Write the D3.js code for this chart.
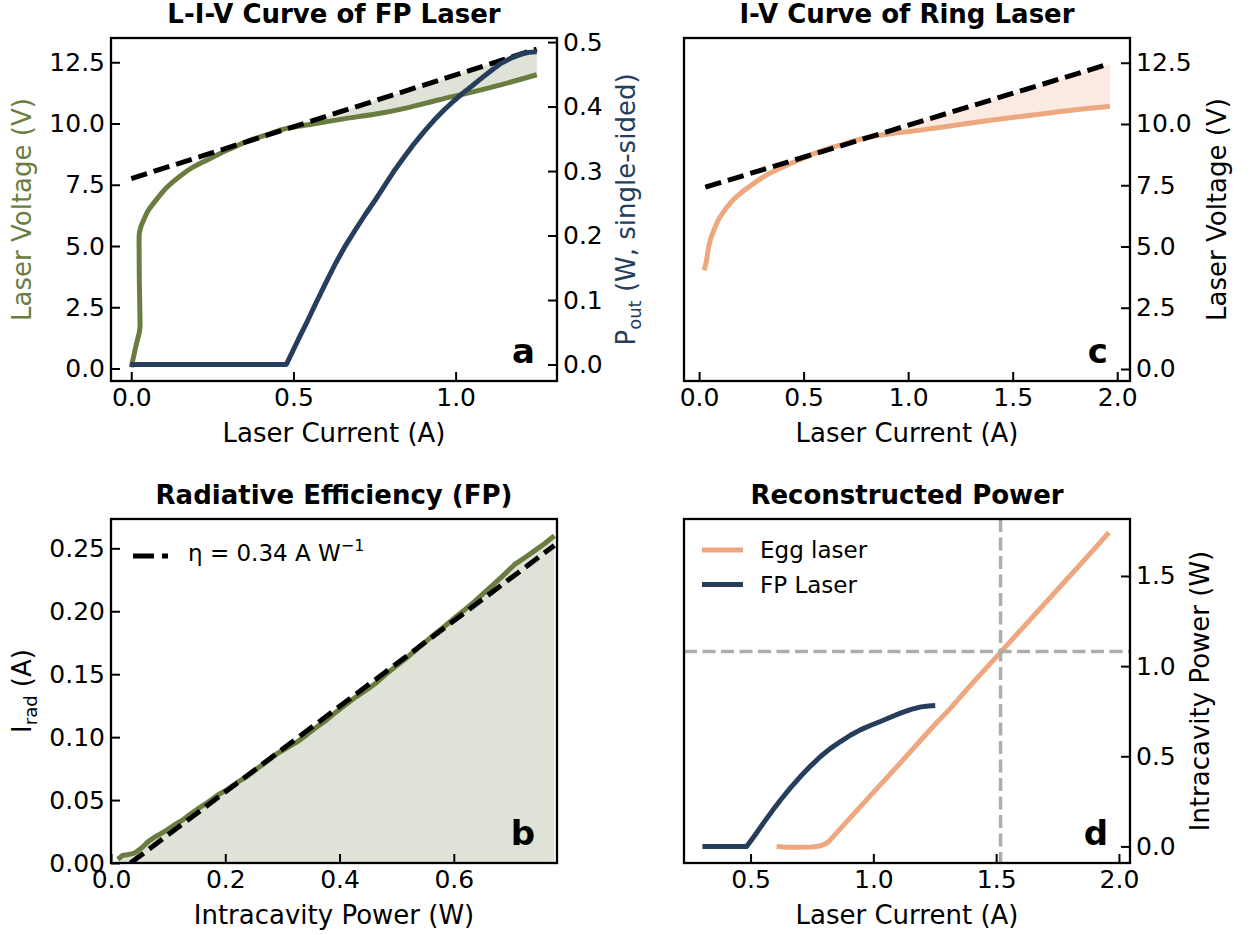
<!DOCTYPE html>
<html>
<head>
<meta charset="utf-8">
<script src="https://cdn.jsdelivr.net/npm/d3@7"></script>
<style>
  body { margin: 0; background: #fff; }
  svg { display: block; }
  text { font-family: "DejaVu Sans", sans-serif; fill: #000; }
</style>
</head>
<body>
<svg id="fig" width="1252" height="935"></svg>
<script>
// ---------- Panel a: L-I-V of the Fabry-Perot laser ----------
const fpCurrent = [0.0, 0.014, 0.027, 0.025, 0.024, 0.03, 0.038, 0.05, 0.069, 0.09, 0.11, 0.15, 0.192, 0.24, 0.274, 0.32, 0.366, 0.42, 0.479, 0.53, 0.582, 0.65, 0.75, 0.85, 0.95, 1.05, 1.15, 1.25];
const fpVoltage = [0.05, 0.9, 1.75, 3.5, 5.35, 5.8, 6.05, 6.4, 6.75, 7.1, 7.4, 7.85, 8.23, 8.55, 8.78, 9.05, 9.32, 9.55, 9.8, 9.92, 10.03, 10.18, 10.38, 10.64, 10.97, 11.28, 11.62, 11.99];
const fpPowerCurrent = [-0.003, 0.478, 0.5, 0.52, 0.54, 0.569, 0.6, 0.63, 0.66, 0.691, 0.722, 0.752, 0.783, 0.813, 0.843, 0.873, 0.904, 0.934, 0.965, 0.995, 1.025, 1.053, 1.08, 1.11, 1.14, 1.17, 1.2, 1.225, 1.25];
const fpPower = [0.0, 0.0, 0.023, 0.044, 0.064, 0.095, 0.127, 0.157, 0.184, 0.209, 0.233, 0.255, 0.279, 0.302, 0.323, 0.343, 0.362, 0.379, 0.395, 0.409, 0.422, 0.433, 0.444, 0.456, 0.467, 0.475, 0.481, 0.484, 0.485];
const fpFitCurrent = [0.0, 1.25];
const fpFitVoltage = [7.75, 13.04];
const fpFillFrom = 0.45;

// ---------- Panel c: I-V of the ring laser ----------
const ringCurrent = [0.024, 0.035, 0.044, 0.055, 0.068, 0.09, 0.116, 0.15, 0.195, 0.25, 0.306, 0.37, 0.433, 0.51, 0.592, 0.7, 0.814, 0.9, 1.068, 1.2, 1.386, 1.55, 1.703, 1.965];
const ringVoltage = [4.03, 4.4, 4.9, 5.3, 5.6, 6.05, 6.4, 6.78, 7.15, 7.5, 7.83, 8.12, 8.37, 8.65, 8.92, 9.2, 9.47, 9.58, 9.76, 9.92, 10.14, 10.32, 10.48, 10.72];
const ringFitCurrent = [0.03, 1.96];
const ringFitVoltage = [7.42, 12.45];
const ringFillFrom = 0.8;

// ---------- Panel b: radiative current vs intracavity power ----------
const cavityPower = [0.012, 0.02, 0.028, 0.041, 0.055, 0.065, 0.076, 0.088, 0.097, 0.11, 0.125, 0.138, 0.152, 0.17, 0.187, 0.204, 0.221, 0.24, 0.256, 0.274, 0.291, 0.308, 0.325, 0.343, 0.36, 0.377, 0.394, 0.41, 0.429, 0.447, 0.464, 0.48, 0.498, 0.516, 0.533, 0.55, 0.567, 0.585, 0.602, 0.62, 0.637, 0.654, 0.671, 0.689, 0.706, 0.724, 0.741, 0.758, 0.776];
const radCurrent = [0.003, 0.006, 0.0065, 0.0078, 0.0125, 0.017, 0.0205, 0.0235, 0.026, 0.030, 0.034, 0.0385, 0.043, 0.0485, 0.054, 0.0585, 0.064, 0.0695, 0.075, 0.081, 0.087, 0.0915, 0.096, 0.102, 0.108, 0.1135, 0.12, 0.1255, 0.132, 0.1375, 0.143, 0.1495, 0.156, 0.1625, 0.169, 0.1755, 0.182, 0.1885, 0.195, 0.2015, 0.208, 0.215, 0.222, 0.2295, 0.237, 0.2425, 0.248, 0.2535, 0.260];
const eta = 0.34;              // A / W
const etaIntercept = -0.0116;  // A
const etaFitPower = [0.034, 0.776];

// ---------- Panel d: reconstructed intracavity power ----------
const eggCurrent = [0.606, 0.65, 0.704, 0.75, 0.786, 0.805, 0.819, 0.9, 1.0, 1.1, 1.2, 1.26, 1.3, 1.4, 1.5, 1.6, 1.7, 1.8, 1.9, 1.959];
const eggPower = [0.0, -0.004, -0.005, -0.003, 0.004, 0.014, 0.028, 0.15, 0.3, 0.448, 0.6, 0.69, 0.745, 0.9, 1.05, 1.2, 1.35, 1.5, 1.65, 1.741];
const fpdCurrent = [0.304, 0.484, 0.52, 0.55, 0.59, 0.623, 0.664, 0.704, 0.745, 0.786, 0.827, 0.868, 0.908, 0.949, 0.99, 1.031, 1.072, 1.113, 1.154, 1.194, 1.225, 1.252];
const fpdPower = [0.0, 0.0, 0.066, 0.125, 0.2, 0.259, 0.327, 0.389, 0.447, 0.5, 0.545, 0.583, 0.618, 0.648, 0.672, 0.694, 0.718, 0.741, 0.76, 0.774, 0.779, 0.781];
const opCurrent = 1.518;
const opPower = 1.081;

// ---------- Tick values ----------
const ticksFpCurrent = [0.0, 0.5, 1.0];
const ticksVoltage = [0.0, 2.5, 5.0, 7.5, 10.0, 12.5];
const ticksPout = [0.0, 0.1, 0.2, 0.3, 0.4, 0.5];
const ticksRingCurrent = [0.0, 0.5, 1.0, 1.5, 2.0];
const ticksCavity = [0.0, 0.2, 0.4, 0.6];
const ticksIrad = [0.0, 0.05, 0.10, 0.15, 0.20, 0.25];
const ticksReconCurrent = [0.5, 1.0, 1.5, 2.0];
const ticksReconPower = [0.0, 0.5, 1.0, 1.5];

// ---------- Style ----------
const C = {
  green: "#6b7c41",
  navy: "#263d5c",
  peach: "#eea880",
  fillGreen: "#dfe3d7",
  fillPeach: "#fbeae2",
  grid: "#adadad"
};
const FS = { tick: 25, label: 26, title: 26, legend: 23, letter: 34 };
const LW = 5;
const DASH = "16.5,7";

const svg = d3.select("#fig");

function makePanel(id, box) {
  const g = svg.append("g");
  g.append("clipPath").attr("id", id)
    .append("rect").attr("x", box.x0).attr("y", box.y0)
    .attr("width", box.x1 - box.x0).attr("height", box.y1 - box.y0);
  const plot = g.append("g").attr("clip-path", `url(#${id})`);
  return { g, plot, box };
}

function frame(p) {
  const b = p.box;
  p.g.append("rect").attr("x", b.x0).attr("y", b.y0)
    .attr("width", b.x1 - b.x0).attr("height", b.y1 - b.y0)
    .attr("fill", "none").attr("stroke", "#000").attr("stroke-width", 2.3);
}

function styleAxis(sel) {
  sel.select(".domain").remove();
  sel.selectAll(".tick line").attr("stroke", "#000").attr("stroke-width", 2);
  sel.selectAll(".tick text").attr("font-size", FS.tick).attr("font-family", "DejaVu Sans").attr("fill", "#000");
}

function axis(p, gen, tx, ty) {
  const a = p.g.append("g").attr("transform", `translate(${tx},${ty})`).call(gen);
  styleAxis(a);
  return a;
}

function title(p, txt) {
  const b = p.box;
  p.g.append("text").attr("x", (b.x0 + b.x1) / 2).attr("y", b.y0 - 15)
    .attr("text-anchor", "middle").attr("font-size", FS.title).attr("font-weight", "bold").text(txt);
}

function xLabel(p, txt) {
  const b = p.box;
  p.g.append("text").attr("x", (b.x0 + b.x1) / 2).attr("y", b.y1 + 61)
    .attr("text-anchor", "middle").attr("font-size", FS.label).text(txt);
}

function yLabel(p, cx, color) {
  const b = p.box;
  const cy = (b.y0 + b.y1) / 2;
  return p.g.append("text")
    .attr("transform", `translate(${cx + 8.5},${cy}) rotate(-90)`)
    .attr("text-anchor", "middle").attr("font-size", FS.label)
    .style("fill", color || "#000");
}

function panelLetter(p, ch) {
  const b = p.box;
  p.g.append("text").attr("x", b.x1 - 22).attr("y", b.y1 - 18)
    .attr("text-anchor", "end").attr("font-size", FS.letter).attr("font-weight", "bold").text(ch);
}

const zip = (xs, ys) => xs.map((v, i) => [v, ys[i]]);
const TICK = -9, PAD = 6;

// ================= Panel a =================
{
  const p = makePanel("clip-a", { x0: 111, x1: 557, y0: 38, y1: 381 });
  const x = d3.scaleLinear().domain([-0.0625, 1.3125]).range([p.box.x0, p.box.x1]);
  const yV = d3.scaleLinear().domain([-0.51, 13.49]).range([p.box.y1, p.box.y0]);
  const yP = d3.scaleLinear().domain([-0.0256, 0.5063]).range([p.box.y1, p.box.y0]);
  const fit = d3.scaleLinear().domain(fpFitCurrent).range(fpFitVoltage);

  const iv = zip(fpCurrent, fpVoltage);
  const shaded = iv.filter(d => d[0] >= fpFillFrom);
  p.plot.append("path").datum(shaded)
    .attr("d", d3.area().x(d => x(d[0])).y0(d => yV(d[1])).y1(d => yV(fit(d[0]))))
    .attr("fill", C.fillGreen);

  p.plot.append("path").datum(iv)
    .attr("d", d3.line().x(d => x(d[0])).y(d => yV(d[1])).curve(d3.curveMonotoneY))
    .attr("fill", "none").attr("stroke", C.green).attr("stroke-width", LW);

  p.plot.append("path").datum(zip(fpFitCurrent, fpFitVoltage))
    .attr("d", d3.line().x(d => x(d[0])).y(d => yV(d[1])))
    .attr("fill", "none").attr("stroke", "#000").attr("stroke-width", LW).attr("stroke-dasharray", DASH);

  p.plot.append("path").datum(zip(fpPowerCurrent, fpPower))
    .attr("d", d3.line().x(d => x(d[0])).y(d => yP(d[1])))
    .attr("fill", "none").attr("stroke", C.navy).attr("stroke-width", LW).attr("stroke-linejoin", "round");

  frame(p);
  axis(p, d3.axisBottom(x).tickValues(ticksFpCurrent).tickSize(TICK).tickPadding(PAD + 1).tickFormat(d3.format(".1f")), 0, p.box.y1);
  axis(p, d3.axisLeft(yV).tickValues(ticksVoltage).tickSize(TICK).tickPadding(PAD).tickFormat(d3.format(".1f")), p.box.x0, 0);
  axis(p, d3.axisRight(yP).tickValues(ticksPout).tickSize(TICK).tickPadding(PAD).tickFormat(d3.format(".1f")), p.box.x1, 0);

  title(p, "L-I-V Curve of FP Laser");
  xLabel(p, "Laser Current (A)");
  yLabel(p, 22, C.green).text("Laser Voltage (V)");
  const t = yLabel(p, 626, C.navy);
  t.append("tspan").text("P");
  t.append("tspan").attr("font-size", 18).attr("dy", 6).text("out");
  t.append("tspan").attr("dy", -6).text(" (W, single-sided)");
  panelLetter(p, "a");
}

// ================= Panel c =================
{
  const p = makePanel("clip-c", { x0: 684, x1: 1130, y0: 38, y1: 381 });
  const x = d3.scaleLinear().domain([-0.0721, 2.0611]).range([p.box.x0, p.box.x1]);
  const yV = d3.scaleLinear().domain([-0.49, 13.51]).range([p.box.y1, p.box.y0]);
  const fit = d3.scaleLinear().domain(ringFitCurrent).range(ringFitVoltage);

  const iv = zip(ringCurrent, ringVoltage);
  const shaded = iv.filter(d => d[0] >= ringFillFrom);
  p.plot.append("path").datum(shaded)
    .attr("d", d3.area().x(d => x(d[0])).y0(d => yV(d[1])).y1(d => yV(fit(d[0]))))
    .attr("fill", C.fillPeach);

  p.plot.append("path").datum(iv)
    .attr("d", d3.line().x(d => x(d[0])).y(d => yV(d[1])).curve(d3.curveMonotoneX))
    .attr("fill", "none").attr("stroke", C.peach).attr("stroke-width", LW);

  p.plot.append("path").datum(zip(ringFitCurrent, ringFitVoltage))
    .attr("d", d3.line().x(d => x(d[0])).y(d => yV(d[1])))
    .attr("fill", "none").attr("stroke", "#000").attr("stroke-width", LW).attr("stroke-dasharray", DASH);

  frame(p);
  axis(p, d3.axisBottom(x).tickValues(ticksRingCurrent).tickSize(TICK).tickPadding(PAD + 1).tickFormat(d3.format(".1f")), 0, p.box.y1);
  axis(p, d3.axisRight(yV).tickValues(ticksVoltage).tickSize(TICK).tickPadding(PAD).tickFormat(d3.format(".1f")), p.box.x1, 0);

  title(p, "I-V Curve of Ring Laser");
  xLabel(p, "Laser Current (A)");
  yLabel(p, 1217).text("Laser Voltage (V)");
  panelLetter(p, "c");
}

// ================= Panel b =================
{
  const p = makePanel("clip-b", { x0: 111, x1: 557, y0: 519, y1: 863 });
  const x = d3.scaleLinear().domain([0, 0.7806]).range([p.box.x0, p.box.x1]);
  const y = d3.scaleLinear().domain([0, 0.2733]).range([p.box.y1, p.box.y0]);

  const pts = zip(cavityPower, radCurrent);
  p.plot.append("path").datum(pts)
    .attr("d", d3.area().x(d => x(d[0])).y0(y(0)).y1(d => y(d[1])))
    .attr("fill", C.fillGreen);

  p.plot.append("path").datum(pts)
    .attr("d", d3.line().x(d => x(d[0])).y(d => y(d[1])))
    .attr("fill", "none").attr("stroke", C.green).attr("stroke-width", LW).attr("stroke-linejoin", "round");

  p.plot.append("path").datum(etaFitPower.map(v => [v, eta * v + etaIntercept]))
    .attr("d", d3.line().x(d => x(d[0])).y(d => y(d[1])))
    .attr("fill", "none").attr("stroke", "#000").attr("stroke-width", LW).attr("stroke-dasharray", DASH);

  frame(p);
  axis(p, d3.axisBottom(x).tickValues(ticksCavity).tickSize(TICK).tickPadding(PAD + 1).tickFormat(d3.format(".1f")), 0, p.box.y1);
  axis(p, d3.axisLeft(y).tickValues(ticksIrad).tickSize(TICK).tickPadding(PAD).tickFormat(d3.format(".2f")), p.box.x0, 0);

  // legend
  p.g.append("line").attr("x1", 133).attr("x2", 168).attr("y1", 556).attr("y2", 556)
    .attr("stroke", "#000").attr("stroke-width", LW).attr("stroke-dasharray", "21,8");
  const lt = p.g.append("text").attr("x", 188).attr("y", 561).attr("font-size", FS.legend);
  lt.append("tspan").text(`η = ${eta.toFixed(2)} A W`);
  lt.append("tspan").attr("font-size", 16).attr("dy", -10).text("−1");

  title(p, "Radiative Efficiency (FP)");
  xLabel(p, "Intracavity Power (W)");
  const t = yLabel(p, 22);
  t.append("tspan").text("I");
  t.append("tspan").attr("font-size", 18).attr("dy", 6).text("rad");
  t.append("tspan").attr("dy", -6).text(" (A)");
  panelLetter(p, "b");
}

// ================= Panel d =================
{
  const p = makePanel("clip-d", { x0: 684, x1: 1130, y0: 519, y1: 863 });
  const x = d3.scaleLinear().domain([0.229, 2.045]).range([p.box.x0, p.box.x1]);
  const y = d3.scaleLinear().domain([-0.092, 1.816]).range([p.box.y1, p.box.y0]);

  p.plot.append("path").datum(zip(eggCurrent, eggPower))
    .attr("d", d3.line().x(d => x(d[0])).y(d => y(d[1])))
    .attr("fill", "none").attr("stroke", C.peach).attr("stroke-width", LW).attr("stroke-linejoin", "round");

  p.plot.append("path").datum(zip(fpdCurrent, fpdPower))
    .attr("d", d3.line().x(d => x(d[0])).y(d => y(d[1])))
    .attr("fill", "none").attr("stroke", C.navy).attr("stroke-width", LW).attr("stroke-linejoin", "round");

  p.plot.append("line").attr("x1", x(opCurrent)).attr("x2", x(opCurrent))
    .attr("y1", p.box.y0).attr("y2", p.box.y1)
    .attr("stroke", C.grid).attr("stroke-width", 3.5).attr("stroke-dasharray", "13,5.5");
  p.plot.append("line").attr("x1", p.box.x0).attr("x2", p.box.x1)
    .attr("y1", y(opPower)).attr("y2", y(opPower))
    .attr("stroke", C.grid).attr("stroke-width", 3.5).attr("stroke-dasharray", "13,5.5");

  frame(p);
  axis(p, d3.axisBottom(x).tickValues(ticksReconCurrent).tickSize(TICK).tickPadding(PAD + 1).tickFormat(d3.format(".1f")), 0, p.box.y1);
  axis(p, d3.axisRight(y).tickValues(ticksReconPower).tickSize(TICK).tickPadding(PAD).tickFormat(d3.format(".1f")), p.box.x1, 0);

  // legend
  const legend = [["Egg laser", C.peach], ["FP Laser", C.navy]];
  legend.forEach(([name, col], i) => {
    const yy = 550 + i * 34.5;
    p.g.append("line").attr("x1", 702).attr("x2", 743).attr("y1", yy).attr("y2", yy)
      .attr("stroke", col).attr("stroke-width", LW);
    p.g.append("text").attr("x", 760).attr("y", yy + 8).attr("font-size", FS.legend).text(name);
  });

  title(p, "Reconstructed Power");
  xLabel(p, "Laser Current (A)");
  yLabel(p, 1200).text("Intracavity Power (W)");
  panelLetter(p, "d");
}
</script>
</body>
</html>
